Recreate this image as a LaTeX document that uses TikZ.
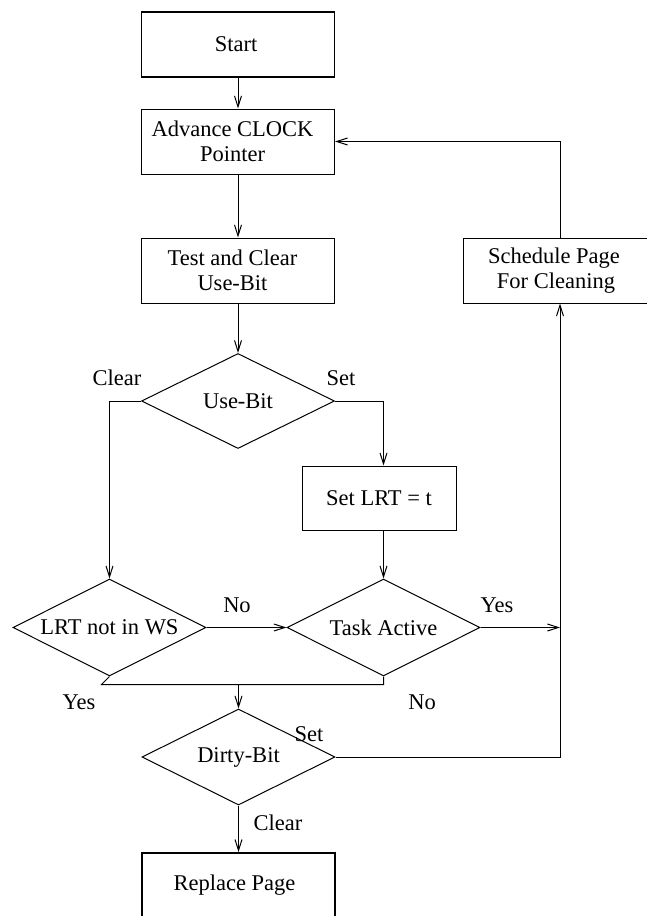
\documentclass[tikz,border=0pt]{standalone}
\usepackage{fontspec}
\setmainfont{Liberation Serif}
\usetikzlibrary{shapes.geometric,arrows.meta,calc}
% trailing pad that nudges a centred line a little to the left
\newcommand\padr{\hspace*{11pt}}
\begin{document}
\begin{tikzpicture}[x=1pt,y=-1pt,
  every node/.style={font=\fontsize{22.5}{25.5}\selectfont},
  box/.style={draw, rectangle, inner sep=0pt, minimum width=193pt,
    minimum height=65pt, align=center, line width=1pt},
  thickbox/.style={box, line width=1.8pt},
  dia/.style={draw, diamond, inner sep=0pt, minimum width=193pt,
    minimum height=97pt, line width=1pt},
  flow/.style={line width=1pt, -{Straight Barb[length=11pt,width=7pt]}},
  link/.style={line width=1pt},
  tag/.style={inner sep=0pt}]
\useasboundingbox (0,0) rectangle (647,916);

% process boxes
\node[thickbox] (start) at (238,44.5) {Start\hspace*{4pt}};
\node[box] (adv) at (238,141.5) {Advance CLOCK\padr\\Pointer\padr};
\node[box] (test) at (238,270.5) {Test and Clear\padr\\Use-Bit\padr};
\node[box, minimum width=186pt] (sched) at (556,270.5) {Schedule Page\hspace*{4pt}\\For Cleaning};
\node[box, minimum width=154pt, minimum height=64pt] (setlrt) at (379,498) {Set LRT = t};
\node[thickbox] (replace) at (238.5,885.5) {Replace Page\hspace*{8pt}};

% decisions
\node[dia, minimum height=95pt] (use) at (238,401) {\makebox[0pt]{Use-Bit}};
\node[dia] (lrt) at (109.5,627.5) {\makebox[0pt]{LRT not in WS}};
\node[dia] (task) at (383.5,627.5) {\makebox[0pt]{Task Active}};
\node[dia, minimum height=96pt] (dirty) at (238.5,757) {\makebox[0pt]{Dirty-Bit}};

% right-hand return column and merge point
\coordinate (rcol) at ([xshift=4pt]sched.south);
\path (lrt.south) ++(-8,8) coordinate (jl);
\coordinate (merge) at (jl -| dirty.north);

% connectors
\draw[flow] (start.south) -- (adv.north);
\draw[flow] (adv.south) -- (test.north);
\draw[flow] (test.south) -- (use.north);
\draw[flow] ([xshift=4pt]sched.north) |- (adv.east);
\draw[flow] (use.west) -| (lrt.north);
\draw[flow] (use.east) -| (task.north |- setlrt.north);
\draw[flow] (task.north |- setlrt.south) -- (task.north);
\draw[flow] (lrt.east) -- (task.west);
\draw[flow] (task.east) -- (task.east -| rcol);
\draw[link] (lrt.south) -- (jl) -- (jl -| task.south) -- (task.south);
\draw[flow] (merge) -- (dirty.north);
\draw[flow] (dirty.east) -| (rcol);
\draw[flow] (dirty.south) -- (replace.north);

% branch labels
\node[tag] (lclear) at (117,378) {Clear};
\node[tag] (lset) at (341,378) {Set};
\node[tag] (lno) at (237,605) {No};
\node[tag] (lyes) at (497,605) {Yes};
\node[tag] (lyes2) at (79,702) {Yes};
\node[tag] (lno2) at (422,702) {No};
\node[tag] (lset2) at (309,734) {Set};
\node[tag] (lclear2) at (278,823) {Clear};
\end{tikzpicture}
\end{document}
